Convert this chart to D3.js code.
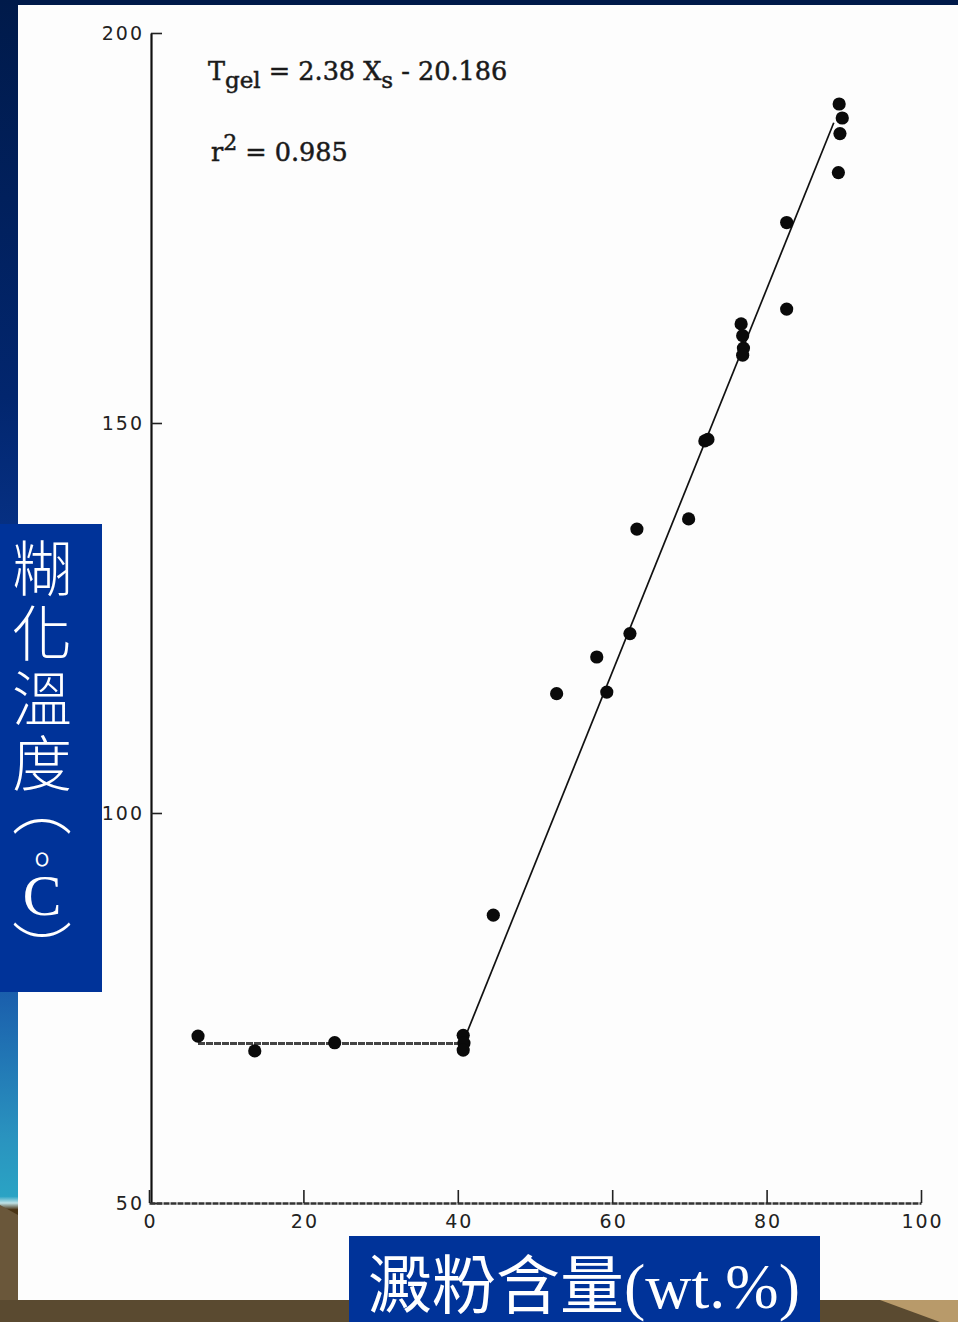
<!DOCTYPE html>
<html>
<head>
<meta charset="utf-8">
<script src="https://cdn.jsdelivr.net/npm/d3@7"></script>
<style>
  html, body { margin: 0; padding: 0; background: #fff; }
  svg { display: block; }
</style>
</head>
<body>
<svg id="chart" width="958" height="1322"></svg>
<script>
// ---- data ----
const starchContent = [6.35, 13.7, 24.05, 40.7, 40.8, 40.7, 44.6, 52.8, 58.0, 59.3, 62.3, 63.2, 69.9, 72.0, 72.4, 76.7, 76.9, 77.0, 76.9, 82.6, 82.6, 89.4, 89.8, 89.5, 89.3];
const gelTemp      = [71.4, 69.5, 70.55, 71.5, 70.5, 69.6, 86.9, 115.3, 120.0, 115.5, 123.0, 136.4, 137.7, 147.7, 147.9, 162.7, 161.2, 159.6, 158.7, 175.7, 164.6, 190.9, 189.1, 187.1, 182.1];
const plateauX = [6.35, 40.7];
const plateauY = [70.45, 70.45];
const slopeX = [40.8, 88.7];
const slopeY = [70.9, 188.5];
const xTicks = [0, 20, 40, 60, 80, 100];
const yTicks = [50, 100, 150, 200];
const yTitleMain = "糊化溫度";
const yTitleUnit = ["（", "º", "C", "）"];
const xTitle = "澱粉含量(wt.%)";

const svg = d3.select("#chart");

// ---- slide background ----
const defs = svg.append("defs");
const lg = defs.append("linearGradient").attr("id", "leftStrip").attr("x1", 0).attr("y1", 0).attr("x2", 0).attr("y2", 1);
[[0, "#001a4a"], [0.3, "#02266e"], [0.5, "#0a3a98"], [0.75, "#1a5eac"], [0.86, "#2a93bf"], [0.905, "#2aa3c4"], [0.91, "#bfe2e6"], [0.915, "#4a3415"], [1, "#5a4a30"]]
  .forEach(([o, c]) => lg.append("stop").attr("offset", o).attr("stop-color", c));
svg.append("rect").attr("x", 0).attr("y", 0).attr("width", 958).attr("height", 1322).attr("fill", "#001a4a");
svg.append("rect").attr("x", 0).attr("y", 0).attr("width", 18).attr("height", 1322).attr("fill", "url(#leftStrip)");
svg.append("rect").attr("x", 0).attr("y", 1300).attr("width", 958).attr("height", 22).attr("fill", "#5a4a30");
svg.append("path").attr("d", "M880,1300 L958,1300 L958,1322 L940,1322 Z").attr("fill", "#b89a6a");
svg.append("path").attr("d", "M0,1205 L18,1215 L18,1300 L0,1300 Z").attr("fill", "#6a573a");
svg.append("rect").attr("x", 18).attr("y", 5).attr("width", 940).attr("height", 1295).attr("fill", "#fdfdfd");

// ---- scales ----
const x = d3.scaleLinear().domain([0, 100]).range([149, 921]);
const y = d3.scaleLinear().domain([50, 200]).range([1203, 33]);

const tickFont = "'DejaVu Sans', sans-serif";

// y axis
const yAxis = svg.append("g").attr("transform", `translate(${x(0) + 2},0)`)
  .call(d3.axisLeft(y).tickValues(yTicks).tickSizeInner(-11).tickSizeOuter(0).tickPadding(7));
yAxis.select(".domain").attr("stroke", "#111").attr("stroke-width", 2.2);
yAxis.selectAll(".tick line").attr("stroke", "#222").attr("stroke-width", 1.6);
yAxis.selectAll(".tick text").attr("font-family", tickFont).attr("font-size", 19)
  .attr("letter-spacing", 2).attr("fill", "#222");

// x axis
const xAxis = svg.append("g").attr("transform", `translate(0,${y(50)})`)
  .call(d3.axisBottom(x).tickValues(xTicks).tickSizeInner(-13).tickSizeOuter(0).tickPadding(12));
xAxis.select(".domain").attr("stroke", "#333").attr("stroke-width", 2.4).attr("stroke-dasharray", "6,1");
xAxis.selectAll(".tick line").attr("stroke", "#222").attr("stroke-width", 1.6);
xAxis.selectAll(".tick text").attr("font-family", tickFont).attr("font-size", 19)
  .attr("letter-spacing", 2).attr("fill", "#222").attr("dx", 1);

// ---- fitted lines ----
const line = d3.line().x(d => x(d[0])).y(d => y(d[1]));
svg.append("path").datum(d3.zip(plateauX, plateauY)).attr("d", line)
  .attr("fill", "none").attr("stroke", "#444").attr("stroke-width", 3).attr("stroke-dasharray", "7,1");
svg.append("path").datum(d3.zip(slopeX, slopeY)).attr("d", line)
  .attr("fill", "none").attr("stroke", "#111").attr("stroke-width", 1.7);

// ---- points ----
svg.append("g").selectAll("circle").data(d3.zip(starchContent, gelTemp)).join("circle")
  .attr("cx", d => x(d[0])).attr("cy", d => y(d[1])).attr("r", 6.6).attr("fill", "#0a0a0a");

// ---- equation annotation ----
const eqFont = "'DejaVu Serif', serif";
const eq = svg.append("text").attr("x", 208).attr("y", 80).attr("font-family", eqFont)
  .attr("font-size", 25.5).attr("fill", "#1a1a1a").attr("stroke", "#1a1a1a").attr("stroke-width", 0.5);
eq.append("tspan").text("T");
eq.append("tspan").attr("dy", 8).attr("font-size", 23).text("gel");
eq.append("tspan").attr("dy", -8).text(" = 2.38 X");
eq.append("tspan").attr("dy", 8).attr("font-size", 23).text("s");
eq.append("tspan").attr("dy", -8).text(" - 20.186");

const r2 = svg.append("text").attr("x", 211).attr("y", 161).attr("font-family", eqFont)
  .attr("font-size", 25.5).attr("fill", "#1a1a1a").attr("stroke", "#1a1a1a").attr("stroke-width", 0.5);
r2.append("tspan").text("r");
r2.append("tspan").attr("dy", -11).attr("font-size", 22).text("2");
r2.append("tspan").attr("dy", 11).text(" = 0.985");

// ---- axis title boxes ----
svg.append("rect").attr("x", 0).attr("y", 524).attr("width", 102).attr("height", 468).attr("fill", "#003399");
svg.append("rect").attr("x", 349).attr("y", 1236).attr("width", 471).attr("height", 86).attr("fill", "#003399");

const cjk = "'Noto Sans CJK TC', 'Noto Sans CJK SC', sans-serif";
const serif = "'Liberation Serif', serif";

// vertical y-axis title (one flowing text)
const yt = svg.append("text").attr("x", 42).attr("y", 538)
  .style("writing-mode", "vertical-rl").style("text-orientation", "upright")
  .attr("font-family", cjk).attr("font-weight", 300).attr("font-size", 60).attr("fill", "#fff");
yt.append("tspan").attr("letter-spacing", 5).text(yTitleMain);
yt.append("tspan").attr("dy", -22).text(yTitleUnit[0]);
yt.append("tspan").attr("dy", 14).attr("font-size", 38).text(yTitleUnit[1]);
yt.append("tspan").attr("dy", -25).attr("font-family", serif).attr("font-weight", 400).attr("font-size", 58).text(yTitleUnit[2]);
yt.append("tspan").attr("dy", -8).text(yTitleUnit[3]);

svg.append("text").attr("x", 584).attr("y", 1308).attr("text-anchor", "middle")
  .attr("font-family", serif + ", " + cjk).attr("font-size", 64).attr("fill", "#fff")
  .text(xTitle);
</script>
</body>
</html>
